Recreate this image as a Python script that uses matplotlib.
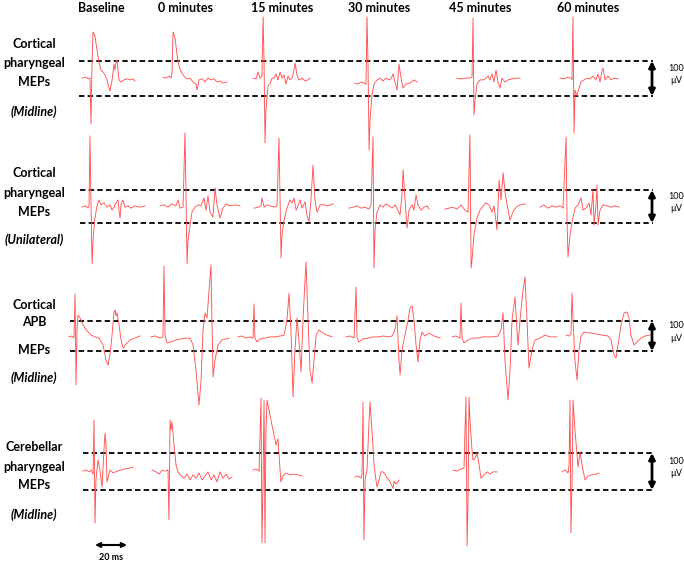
import matplotlib.pyplot as plt

plt.rcParams["font.family"] = ["Lato", "DejaVu Sans"]

# column headers (time after conditioning)
timepoints = ["Baseline", "0 minutes", "15 minutes", "30 minutes", "45 minutes", "60 minutes"]

# row labels, last line italic
row_labels = [
    ["Cortical", "pharyngeal", "MEPs", "(Midline)"],
    ["Cortical", "pharyngeal", "MEPs", "(Unilateral)"],
    ["Cortical", "APB", "MEPs", "(Midline)"],
    ["Cerebellar", "pharyngeal", "MEPs", "(Midline)"],
]

# ---- traces: time in ms from sweep start, amplitude in uV ----
# cortical pharyngeal MEPs (midline)
cort_mid_t = [
    [0, 2.5, 3.8, 5, 5.6, 6.3, 6.9, 8.1, 9.4, 10.6, 11.9, 13.1, 14.4, 15.6, 16.9, 17.5, 18.8, 20, 20.6, 21.3, 21.9, 22.5, 23.1, 24.4, 26.3, 28.1, 30, 31.9, 33.1],
    [0, 1.9, 3.8, 5, 5.6, 6.3, 7.5, 8.8, 10, 11.3, 13.1, 15, 16.9, 18.8, 20.6, 21.3, 22.5, 24.4, 26.3, 28.1, 30, 31.9, 33.8, 35.6, 37.5, 40],
    [0, 1.9, 3.1, 4.4, 5.6, 6.3, 6.9, 7.5, 8.1, 9.4, 10.6, 11.9, 13.1, 14.4, 15.6, 16.9, 18.1, 19.4, 20.6, 21.9, 23.1, 24.4, 25.6, 26.3, 27.5, 28.8, 30.6, 32.5, 34.4, 35.6],
    [0, 1.9, 3.8, 5.6, 6.9, 7.5, 8.1, 8.8, 9.4, 10.6, 11.9, 13.8, 15.6, 17.5, 19.4, 21.3, 22.5, 23.8, 25, 26.3, 27.5, 28.8, 30, 31.9, 34.4, 36.9, 38.8],
    [0, 2.5, 5, 7.5, 9.4, 10, 10.6, 11.3, 12.5, 14.4, 16.3, 18.1, 19.4, 20.6, 21.9, 23.1, 24.4, 25.6, 26.9, 28.1, 30, 31.9, 34.4, 36.9, 39.4],
    [0, 2.5, 5, 6.9, 7.5, 8.1, 8.8, 9.4, 10.6, 11.9, 13.1, 15, 16.9, 18.8, 20.6, 22.5, 23.8, 25, 26.3, 26.9, 28.1, 30, 31.9, 33.8, 36.3],
]
cort_mid_uv = [
    [1, 4, -1, 1, -130, 53, 133, 121, 81, 47, 24, 19, 10, -4, -27, -36, -4, 41, 24, 47, 53, 24, -4, -10, -4, -1, -4, -1, -7],
    [4, 1, 7, 1, 13, 133, 116, 67, 36, 19, 7, -1, 1, -10, -16, -33, -4, -1, -10, 1, -4, -1, -10, -7, -13, -10],
    [1, -1, 19, 1, 7, 176, 53, -184, -90, -21, -16, 1, 1, 13, -4, 19, 1, 10, -16, 7, -4, 1, 24, 44, 10, -4, 1, -7, -4, 1],
    [-13, -16, -10, -13, -16, 176, 53, -204, -119, -47, -16, -4, 1, -7, 1, -4, -1, 13, -10, -33, 41, 1, -27, -16, -13, -4, -10],
    [1, -1, 1, 1, 4, 173, -104, -61, -16, -4, -4, 1, 7, -4, 13, -10, 24, -10, -27, 1, -10, -4, -1, 1, 1],
    [1, -1, 4, 1, -4, 176, -156, -33, -50, -27, -10, -4, 1, -1, 7, -4, 13, -10, 24, 30, -4, 7, -4, 1, -1],
]

# cortical pharyngeal MEPs (unilateral)
cort_uni_t = [
    [0, 1.9, 3.8, 4.4, 5, 5.6, 6.3, 6.9, 8.1, 9.4, 10.6, 11.9, 13.8, 15.6, 17.5, 18.8, 20, 21.3, 22.5, 23.1, 23.8, 24.4, 25.6, 26.9, 28.8, 30.6, 33.1, 36.3, 39.4],
    [0, 2.5, 5, 7.5, 10, 11.3, 12.5, 14.4, 15.6, 16.3, 16.9, 17.5, 18.8, 20, 21.9, 23.8, 25.6, 27.5, 28.8, 30, 31.3, 33.1, 34.4, 35.6, 37.5, 39.4, 41.3, 43.8, 46.9, 50],
    [0, 2.5, 4.4, 5, 6.3, 8.1, 10, 12.5, 14.4, 15.6, 16.3, 16.9, 17.5, 18.8, 20.6, 22.5, 23.8, 25, 26.3, 27.5, 28.8, 30, 31.9, 33.1, 34.4, 35.6, 36.9, 38.1, 39.4, 41.3, 43.8, 46.3, 49.4],
    [0, 2.5, 5, 7.5, 10, 12.5, 13.8, 15, 15.6, 16.3, 17.5, 19.4, 21.3, 23.1, 25, 26.9, 28.8, 30.6, 31.9, 33.1, 33.8, 35, 36.3, 37.5, 39.4, 40.6, 41.9, 43.1, 45, 46.9, 48.8, 50],
    [0, 2.5, 5, 7.5, 10, 12.5, 14.4, 15.6, 16.3, 16.9, 18.1, 20, 21.9, 23.8, 25.6, 27.5, 29.4, 30.6, 31.9, 32.5, 33.8, 35, 36.3, 37.5, 38.8, 40.6, 42.5, 44.4, 46.9, 50],
    [0, 2.5, 5, 7.5, 10, 12.5, 14.4, 16.3, 16.9, 17.5, 18.8, 20, 21.9, 23.8, 25.6, 26.9, 28.8, 30.6, 31.9, 33.1, 33.8, 35, 35.6, 36.3, 37.5, 39.4, 41.9, 44.4, 46.9, 49.4],
]
cort_uni_uv = [
    [-2, 2, -5, 2, 214, 20, -174, -102, -35, 2, 20, 5, 11, -2, 5, -11, -2, 11, 20, -11, -35, 5, 20, -2, 2, -5, 2, -2, 2],
    [2, 5, -2, 8, 2, 20, -5, -2, 223, 20, -174, -102, -56, -17, -2, 5, 2, 26, -11, 32, -17, -32, 56, 5, -35, -5, 8, 2, 5, 2],
    [-5, -2, 2, 26, -2, 5, 2, -2, 2, 208, 20, -156, -86, -41, -5, 20, 11, 26, -11, 2, 20, -5, 14, -26, -47, 20, 126, 20, -17, 5, 5, 2, 8],
    [-5, -2, 2, -5, -2, -8, 5, 211, -186, -71, -17, 5, -2, 8, 2, -5, 5, -11, -26, 35, 111, 20, -65, -11, 5, -11, 35, 5, -11, -2, 2, -8],
    [-8, -5, -2, -8, 5, -11, -17, 217, -186, -162, -86, -35, -11, 2, 11, 5, -17, 2, -47, -71, 80, 20, 102, 44, 5, -41, -17, -2, 5, 8],
    [-2, 5, -5, 2, -2, 2, -5, 211, -41, -153, -86, -47, -5, 5, 26, -11, -5, 11, -26, 50, -56, 5, 65, -56, -11, 5, 2, -2, 2, -2],
]

# cortical APB MEPs (midline)
apb_t = [
    [0, 1.9, 3.1, 3.8, 4.4, 5, 5.6, 6.9, 8.8, 11.3, 13.8, 16.3, 18.8, 21.3, 23.1, 24.4, 25.6, 26.9, 28.1, 28.8, 29.4, 30, 31.3, 32.5, 33.8, 35.6, 38.1, 41.3, 44.4],
    [0, 2.5, 5.6, 7.5, 8.1, 8.8, 10, 12.5, 15.6, 18.8, 21.9, 24.4, 26.3, 28.1, 30, 31.3, 32.5, 33.8, 35, 36.3, 37.5, 38.1, 38.8, 40, 41.9, 44.4, 46.9, 48.8],
    [0, 2.5, 5, 7.5, 9.4, 10, 10.6, 11.9, 13.8, 16.9, 20, 23.1, 26.3, 28.8, 30.6, 31.9, 33.1, 34.4, 35.6, 36.9, 38.1, 39.4, 40.6, 41.9, 42.5, 43.8, 45, 46.3, 47.5, 48.8, 50.6, 53.1, 55.6, 58.8],
    [0, 2.5, 5, 6.3, 6.9, 8.1, 10.6, 13.8, 16.9, 20, 23.1, 26.3, 28.8, 30.6, 31.9, 33.1, 33.8, 35, 36.9, 38.8, 40, 41.3, 42.5, 43.8, 45, 46.3, 47.5, 49.4, 51.9, 55, 58.8],
    [0, 2.5, 5, 5.6, 6.3, 7.5, 10, 13.1, 16.3, 19.4, 22.5, 25.6, 28.8, 30.6, 31.9, 33.1, 35, 36.3, 37.5, 39.4, 40.6, 41.3, 42.5, 44.4, 45.6, 46.9, 48.1, 50, 51.9, 55, 58.1, 61.3, 65.6],
    [0, 1.9, 3.1, 3.8, 4.4, 5.6, 6.9, 8.1, 9.4, 11.3, 15, 18.8, 22.5, 26.3, 28.1, 30, 31.3, 32.5, 34.4, 36.3, 38.1, 39.4, 40.6, 42.5, 44.4, 46.9, 49.4, 52.5],
]
apb_uv = [
    [-3, 0, -7, 140, -163, 20, 70, 60, 37, 17, 3, -3, -7, -30, -80, -97, -63, 3, 80, 87, 67, 77, 37, -13, -40, -27, -13, -7, 0],
    [-3, 0, -7, -3, 233, 0, -23, -20, -13, -10, -7, -7, -30, -113, -230, -147, 20, 77, 60, 153, 237, 53, -137, -80, -30, -13, -10, -7],
    [-3, 0, -7, -3, -7, 107, -7, -20, -10, -7, -3, -3, 0, 3, 53, 143, 20, -203, -47, 60, -13, -120, 53, 187, 247, 53, -113, -157, -80, 3, 20, 10, 3, -3],
    [-3, 0, -7, 163, -7, -20, -10, -7, -3, -3, 0, -3, 0, 20, 67, -80, -130, -47, 3, 53, 93, 100, 53, -30, -87, -13, 13, 0, 10, 0, -7],
    [-3, 0, -7, 110, -7, -23, -13, -7, -7, -3, -3, -3, 0, 20, 77, -80, -213, -113, 53, 130, 20, -30, 53, 153, 197, 53, -107, -47, -13, -7, 3, -3, -3],
    [3, 0, 7, 143, 53, -80, -147, -47, 0, 13, 10, 7, 3, 0, -13, -63, -73, -30, 37, 77, 80, 60, 3, -30, -20, -7, 0, 3],
]

# cerebellar pharyngeal MEPs (midline)
cereb_t = [
    [0, 1.9, 3.8, 5, 6.3, 6.9, 7.5, 8.1, 9.4, 10.6, 11.9, 13.1, 13.8, 14.4, 15, 15.6, 16.9, 18.8, 21.3, 23.8, 26.3, 28.8, 31.3],
    [0, 2.5, 4.4, 6.3, 8.1, 10, 10.6, 11.3, 11.9, 12.5, 13.8, 15, 16.3, 18.1, 20, 21.9, 23.8, 25.6, 27.5, 29.4, 31.3, 33.1, 35, 36.9, 38.8, 40.6, 42.5, 44.4, 46.3, 48.1, 50],
    [0, 1.9, 3.8, 5, 5.6, 6.3, 6.9, 7.5, 8.1, 8.8, 10.6, 12.5, 14.4, 15.6, 16.9, 17.5, 18.8, 20.6, 23.1, 25.6, 28.1, 30.6],
    [0, 1.9, 3.8, 4.4, 5, 5.6, 6.3, 7.5, 8.8, 9.4, 10.6, 11.9, 13.1, 13.8, 15, 16.3, 17.5, 18.8, 20, 21.3, 22.5, 23.8, 24.4, 25.6, 27.5],
    [0, 2.5, 5, 6.9, 7.5, 8.1, 8.8, 9.4, 10, 10.6, 11.9, 12.5, 13.8, 15, 16.3, 17.5, 19.4, 21.3, 23.1, 25, 27.5],
    [0, 1.9, 3.8, 4.4, 5, 5.6, 6.3, 6.9, 8.1, 9.4, 10, 11.3, 12.5, 14.4, 16.3, 18.8, 21.3, 23.1],
]
cereb_uv = [
    [1, 4, -1, 4, -7, 139, -139, -23, 31, 4, -42, 58, 104, 72, -28, -18, 4, -4, 1, 4, 7, 9, 12],
    [4, -1, -7, 4, 1, 4, -131, 139, 112, 134, 72, 18, -1, -12, -18, -7, -23, -9, -18, -4, -23, -12, -1, -23, -9, -28, -1, -18, -7, -20, -15],
    [4, 7, 1, 198, -193, -23, 193, -193, 112, 193, 153, 112, 72, 88, 4, -28, -12, -4, -9, -7, -9, -12],
    [-15, -12, -18, -7, 188, -185, -23, 4, 139, 188, 112, 18, -23, -42, -23, -1, -1, -7, -18, -23, -34, -45, -26, -34, -23],
    [4, 1, 7, 9, 112, 201, -201, -77, 201, 139, 58, 31, 36, 50, 18, -18, -9, -1, -7, -1, -1],
    [-1, 4, -4, 18, 193, -166, -23, 193, 112, 45, 12, 53, 18, -23, -12, -9, -7, -4],
]

rows_t = [cort_mid_t, cort_uni_t, apb_t, cereb_t]
rows_uv = [cort_mid_uv, cort_uni_uv, apb_uv, cereb_uv]

# ---- layout (pixels on a 684 x 564 canvas) ----
W, H = 684, 564
PX_PER_MS = 1.6
sweep_start = [
    [82, 163, 253, 355, 457, 560],
    [82, 160, 254, 349, 445, 540],
    [69, 151, 238, 346, 452, 566],
    [83, 152, 253, 355, 453, 562],
]
row_center = [78.5, 206.5, 336, 471.5]
row_px_100uv = [35, 33, 30, 37]
dash_start = [79, 80, 70, 83]
dash_end = 653
arrow_x = 652
header_x = [101, 185, 282, 379, 480, 588]
label_y = [[44, 63, 82, 112], [173, 193, 212, 240], [305, 322, 350, 378], [447, 467, 485, 515]]

trace_color = "#ff5252"

fig = plt.figure(figsize=(W / 100, H / 100), dpi=100)
ax_txt = fig.add_axes([0, 0, 1, 1])
ax_txt.set_xlim(0, W)
ax_txt.set_ylim(H, 0)
ax_txt.axis("off")

for i, name in enumerate(timepoints):
    ax_txt.text(header_x[i], 8, name, ha="center", va="center", fontsize=9, fontweight="bold")

for r, lines in enumerate(row_labels):
    for j, line in enumerate(lines):
        style = "italic" if j == 3 else "normal"
        ax_txt.text(34, label_y[r][j], line, ha="center", va="center", fontsize=9,
                    fontweight="bold", fontstyle=style)
    ax_txt.text(676, row_center[r] - 4, "100\nµV", ha="center", va="center", fontsize=6.5,
                linespacing=1.5)

# 20 ms scale bar
ax_txt.annotate("", xy=(95, 545), xytext=(95 + 20 * PX_PER_MS, 545),
                arrowprops=dict(arrowstyle="<|-|>", lw=1.5, color="black",
                                mutation_scale=7, shrinkA=0, shrinkB=0))
ax_txt.text(111, 558, "20 ms", ha="center", va="center", fontsize=6.5, fontweight="bold")

for r in range(4):
    k = 100 / row_px_100uv[r]
    c = row_center[r]
    ax = fig.add_axes([0, 0, 1, 1])
    ax.patch.set_alpha(0)
    ax.set_xlim(0, W / PX_PER_MS)
    ax.set_ylim((c - H) * k, c * k)
    ax.axis("off")
    ax.hlines([50, -50], dash_start[r] / PX_PER_MS, dash_end / PX_PER_MS, colors="black",
              linestyles=(0, (3, 1.8)), lw=1.3)
    ax.annotate("", xy=(arrow_x / PX_PER_MS, 50), xytext=(arrow_x / PX_PER_MS, -50),
                arrowprops=dict(arrowstyle="<|-|>", lw=2, color="black",
                                mutation_scale=9, shrinkA=0, shrinkB=0))
    for col in range(6):
        x0 = sweep_start[r][col] / PX_PER_MS
        ts = [x0 + t for t in rows_t[r][col]]
        ax.plot(ts, rows_uv[r][col], color=trace_color, lw=0.65, clip_on=False)

fig.savefig("out.png", dpi=100)
